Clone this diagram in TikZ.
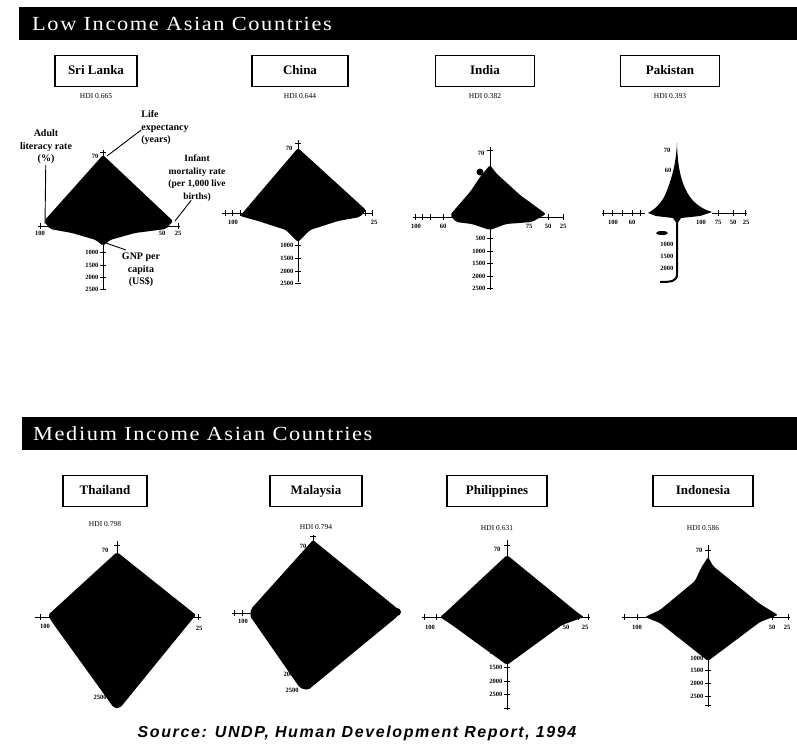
\documentclass[tikz,border=0pt]{standalone}
\usepackage{fontspec}
\setmainfont{Liberation Serif}
\setsansfont{Liberation Sans}
\usetikzlibrary{positioning}

\tikzset{
  banner/.style={fill=black},
  bannertext/.style={text=white, anchor=west, inner sep=0pt,
    font=\fontsize{20}{20}\selectfont\addfontfeatures{FakeStretch=1.12,LetterSpace=8}},
  namebox/.style={draw, line width=1.1pt, minimum height=31pt, inner sep=2pt,
    text height=9pt, text depth=2.5pt, font=\bfseries\fontsize{13}{13}\selectfont},
  hdi/.style={font=\fontsize{7.5}{7.5}\selectfont, inner sep=1pt},
  axis/.style={line width=0.8pt},
  ticklbl/.style={font=\bfseries\fontsize{6.5}{6.5}\selectfont, inner sep=0.5pt},
  callout/.style={font=\bfseries\fontsize{10}{12.5}\selectfont, align=center, inner sep=1pt},
  blob/.style={fill=black, rounded corners=2pt},
  leader/.style={line width=0.9pt},
}

\begin{document}
\begin{tikzpicture}[x=1pt,y=-1pt]
\useasboundingbox (0,0) rectangle (797,747);

% banners
\fill[banner] (19,7) rectangle (797,40);
\node[bannertext] (lowtitle) at (32,24) {Low Income Asian Countries};
\fill[banner] (22,417) rectangle (797,450);
\node[bannertext] (medtitle) at (33,434) {Medium Income Asian Countries};

% ---------- low income row ----------
\node[namebox, minimum width=82pt] (srilanka) at (96,71) {Sri Lanka};
\node[hdi, below=5pt of srilanka] (hdisl) {HDI 0.665};
\node[namebox, minimum width=96pt] (china) at (300,71) {China};
\node[hdi, below=5pt of china] (hdich) {HDI 0.644};
\node[namebox, minimum width=99pt] (india) at (485,71) {India};
\node[hdi, below=5pt of india] (hdiin) {HDI 0.382};
\node[namebox, minimum width=99pt] (pakistan) at (670,71) {Pakistan};
\node[hdi, below=5pt of pakistan] (hdipk) {HDI 0.393};

% Sri Lanka
\fill[blob] (103,155) -- (173,221) -- (166,229) -- (135,233) -- (110,240) -- (103,246)
  -- (96,240) -- (72,233) -- (50,229) -- (44,221) -- cycle;
\draw[axis] (103,150) -- (103,290);
\draw[axis] (38,226) -- (180,226);
\foreach \y in {252,265,277,289} \draw[axis] (100,\y) -- (106,\y);
\foreach \x in {40,58,163,178} \draw[axis] (\x,223) -- (\x,229);
\draw[axis] (100,152) -- (106,152);
\node[ticklbl] (sl70) at (95,156) {70};
\node[ticklbl] (sl100) at (40,233) {100};
\node[ticklbl] (sl50) at (162,233) {50};
\node[ticklbl] (sl25) at (178,233) {25};
\foreach \v/\y in {1000/252,1500/265,2000/277,2500/289}
  \node[ticklbl, anchor=east] at (99,\y) {\v};
\node[callout] (literacy) at (46,147) {Adult\\literacy rate\\(\%)};
\node[callout, align=left] (life) at (165,128) {Life\\expectancy\\(years)};
\node[callout, font=\bfseries\fontsize{9.5}{12.5}\selectfont] (infant) at (197,178)
  {Infant\\mortality rate\\(per 1,000 live\\births)};
\node[callout] (gnp) at (141,270) {GNP per\\capita\\(US\$)};
\coordinate (slleft) at (45,224);
\coordinate (sltop) at (107,156);
\coordinate (slright) at (175,221);
\coordinate (slbottom) at (106,243);
\draw[leader] (literacy) -- (slleft);
\draw[leader] (life.west) ++(1,2) -- (sltop);
\draw[leader] (infant.south west) ++(24,-2) -- (slright);
\draw[leader] (gnp.north west) ++(5,-2) -- (slbottom);

% China
\fill[blob] (298,148) -- (366,210) -- (360,217) -- (338,221) -- (310,230) -- (298,242)
  -- (286,230) -- (258,221) -- (240,216) -- cycle;
\draw[axis] (298,140) -- (298,282);
\draw[axis] (222,213) -- (373,213);
\foreach \y in {245,258,271,283} \draw[axis] (295,\y) -- (301,\y);
\foreach \x in {225,232,240,365,372} \draw[axis] (\x,210) -- (\x,216);
\draw[axis] (295,143) -- (301,143);
\node[ticklbl] (ch100) at (233,222) {100};
\node[ticklbl] (ch25) at (374,222) {25};
\node[ticklbl] (ch70) at (289,148) {70};
\foreach \v/\y in {1000/245,1500/258,2000/271,2500/283}
  \node[ticklbl, anchor=east] at (294,\y) {\v};

% India
\fill[blob] (490,165) -- (496,173) -- (520,195) -- (546,214) -- (532,222) -- (506,224)
  -- (490,230) -- (472,224) -- (456,222) -- (450,215) -- (470,192) -- (480,177) -- cycle;
\fill (480,172) circle (3.5pt);
\draw[axis] (490,147) -- (490,290);
\draw[axis] (413,217) -- (563,217);
\foreach \y in {150,238,251,263,276,288} \draw[axis] (487,\y) -- (493,\y);
\foreach \x in {415,422,430,443,528,548,563} \draw[axis] (\x,214) -- (\x,220);
\node[ticklbl] (in70) at (481,153) {70};
\node[ticklbl] (in100) at (416,226) {100};
\node[ticklbl] (in60) at (443,226) {60};
\node[ticklbl] (in75) at (529,226) {75};
\node[ticklbl] (in50) at (548,226) {50};
\node[ticklbl] (in25) at (563,226) {25};
\foreach \v/\y in {500/238,1000/251,1500/263,2000/276,2500/288}
  \node[ticklbl, anchor=east] at (486,\y) {\v};

% Pakistan
\fill (677,143) .. controls (678,190) and (692,206) .. (712,212) -- (700,216) -- (681,218)
  -- (677,224) -- (673,218) -- (656,216) -- (648,213)
  .. controls (664,204) and (666,192) .. (669,185) .. controls (674,170) and (676,160) .. (677,143);
\draw[line width=2pt] (677,213) -- (677,274) .. controls (677,281) and (672,282) .. (660,282);
\fill (662,233) ellipse (6pt and 2pt);
\draw[axis] (602,213) -- (645,213);
\draw[axis] (712,213) -- (747,213);
\foreach \x in {603,612,622,632,640,718,733,745} \draw[axis] (\x,210) -- (\x,216);
\node[ticklbl] (pk70) at (667,150) {70};
\node[ticklbl] (pk60) at (668,170) {60};
\node[ticklbl] (pk100l) at (613,222) {100};
\node[ticklbl] (pk60l) at (632,222) {60};
\node[ticklbl] (pk100r) at (701,222) {100};
\node[ticklbl] (pk75) at (718,222) {75};
\node[ticklbl] (pk50) at (733,222) {50};
\node[ticklbl] (pk25) at (746,222) {25};
\foreach \v/\y in {1000/244,1500/256,2000/268}
  \node[ticklbl, anchor=east] at (674,\y) {\v};

% ---------- medium income row ----------
\node[namebox, minimum width=84pt] (thailand) at (105,491) {Thailand};
\node[hdi, below=13pt of thailand] (hdith) {HDI 0.798};
\node[namebox, minimum width=92pt] (malaysia) at (316,491) {Malaysia};
\node[hdi, below=16pt of malaysia] (hdimy) {HDI 0.794};
\node[namebox, minimum width=100pt] (philippines) at (497,491) {Philippines};
\node[hdi, below=17pt of philippines] (hdiph) {HDI 0.631};
\node[namebox, minimum width=100pt] (indonesia) at (703,491) {Indonesia};
\node[hdi, below=17pt of indonesia] (hdiid) {HDI 0.586};

% Thailand
\fill[blob] (117,552) -- (196,615) -- (190,622) -- (120,708) -- (114,708) -- (52,622) -- (48,615) -- cycle;
\draw[axis] (117,541) -- (117,555);
\draw[axis] (35,617) -- (50,617);
\draw[axis] (193,617) -- (201,617);
\draw[axis] (114,545) -- (120,545);
\draw[axis] (40,614) -- (40,620);
\draw[axis] (198,614) -- (198,620);
\node[ticklbl] (th70) at (105,550) {70};
\node[ticklbl] (th100) at (45,626) {100};
\node[ticklbl] (th25) at (199,628) {25};
\node[ticklbl] (th2500) at (100,697) {2500};

% Malaysia
\fill[blob] (313,540) -- (398,609) -- (398,616) -- (308,690) -- (300,688) -- (250,616) -- (251,609) -- cycle;
\fill (397,612) circle (4pt);
\draw[axis] (313,535) -- (313,542);
\draw[axis] (310,536) -- (316,536);
\draw[axis] (232,613) -- (250,613);
\foreach \x in {234,242} \draw[axis] (\x,610) -- (\x,616);
\node[ticklbl] (my70) at (303,546) {70};
\node[ticklbl] (my100) at (243,621) {100};
\node[ticklbl] (my2000) at (290,674) {2000};
\node[ticklbl] (my2500) at (292,690) {2500};

% Philippines
\fill[blob] (507,555) -- (578,613) -- (584,617) -- (562,625) -- (507,665) -- (452,625)
  -- (440,617) -- (446,612) -- cycle;
\draw[axis] (507,540) -- (507,710);
\draw[axis] (422,617) -- (590,617);
\foreach \y in {545,652,667,681,694,708} \draw[axis] (504,\y) -- (510,\y);
\foreach \x in {424,436,578,588} \draw[axis] (\x,614) -- (\x,620);
\node[ticklbl] (ph70) at (497,549) {70};
\node[ticklbl] (ph100) at (430,627) {100};
\node[ticklbl] (ph50) at (566,627) {50};
\node[ticklbl] (ph25) at (585,627) {25};
\foreach \v/\y in {1000/652,1500/667,2000/681,2500/694}
  \node[ticklbl, anchor=east] at (503,\y) {\v};

% Indonesia
\fill[blob] (708,557) -- (713,566) -- (760,604) -- (778,615) -- (760,622) -- (708,661)
  -- (660,623) -- (645,617) -- (660,610) -- (695,581) -- (701,568) -- cycle;
\draw[axis] (708,545) -- (708,707);
\draw[axis] (622,617) -- (790,617);
\foreach \y in {550,658,670,683,696,705} \draw[axis] (705,\y) -- (711,\y);
\foreach \x in {624,637,772,788} \draw[axis] (\x,614) -- (\x,620);
\node[ticklbl] (id70) at (699,550) {70};
\node[ticklbl] (id100) at (637,627) {100};
\node[ticklbl] (id50) at (772,627) {50};
\node[ticklbl] (id25) at (787,627) {25};
\foreach \v/\y in {1000/658,1500/670,2000/683,2500/696}
  \node[ticklbl, anchor=east] at (704,\y) {\v};

% source line
\node[font=\sffamily\bfseries\itshape\fontsize{16}{16}\selectfont\addfontfeatures{LetterSpace=10},
  inner sep=0pt] (source) at (357,733) {Source: UNDP, Human Development Report, 1994};
\end{tikzpicture}
\end{document}
